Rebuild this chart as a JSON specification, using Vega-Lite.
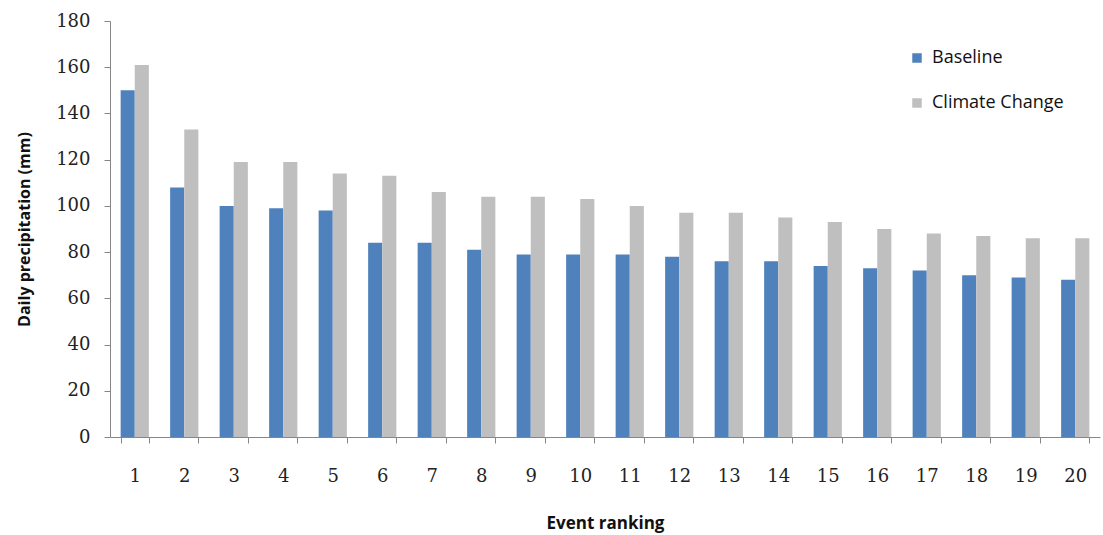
{
  "$schema": "https://vega.github.io/schema/vega-lite/v6.json",
  "autosize": "none",
  "width": 990,
  "height": 416,
  "padding": {"left": 110, "top": 21, "right": 3, "bottom": 98},
  "background": "white",
  "data": {
    "values": [
      {"rank": 1, "scenario": "Baseline", "value": 150},
      {"rank": 1, "scenario": "Climate Change", "value": 161},
      {"rank": 2, "scenario": "Baseline", "value": 108},
      {"rank": 2, "scenario": "Climate Change", "value": 133},
      {"rank": 3, "scenario": "Baseline", "value": 100},
      {"rank": 3, "scenario": "Climate Change", "value": 119},
      {"rank": 4, "scenario": "Baseline", "value": 99},
      {"rank": 4, "scenario": "Climate Change", "value": 119},
      {"rank": 5, "scenario": "Baseline", "value": 98},
      {"rank": 5, "scenario": "Climate Change", "value": 114},
      {"rank": 6, "scenario": "Baseline", "value": 84},
      {"rank": 6, "scenario": "Climate Change", "value": 113},
      {"rank": 7, "scenario": "Baseline", "value": 84},
      {"rank": 7, "scenario": "Climate Change", "value": 106},
      {"rank": 8, "scenario": "Baseline", "value": 81},
      {"rank": 8, "scenario": "Climate Change", "value": 104},
      {"rank": 9, "scenario": "Baseline", "value": 79},
      {"rank": 9, "scenario": "Climate Change", "value": 104},
      {"rank": 10, "scenario": "Baseline", "value": 79},
      {"rank": 10, "scenario": "Climate Change", "value": 103},
      {"rank": 11, "scenario": "Baseline", "value": 79},
      {"rank": 11, "scenario": "Climate Change", "value": 100},
      {"rank": 12, "scenario": "Baseline", "value": 78},
      {"rank": 12, "scenario": "Climate Change", "value": 97},
      {"rank": 13, "scenario": "Baseline", "value": 76},
      {"rank": 13, "scenario": "Climate Change", "value": 97},
      {"rank": 14, "scenario": "Baseline", "value": 76},
      {"rank": 14, "scenario": "Climate Change", "value": 95},
      {"rank": 15, "scenario": "Baseline", "value": 74},
      {"rank": 15, "scenario": "Climate Change", "value": 93},
      {"rank": 16, "scenario": "Baseline", "value": 73},
      {"rank": 16, "scenario": "Climate Change", "value": 90},
      {"rank": 17, "scenario": "Baseline", "value": 72},
      {"rank": 17, "scenario": "Climate Change", "value": 88},
      {"rank": 18, "scenario": "Baseline", "value": 70},
      {"rank": 18, "scenario": "Climate Change", "value": 87},
      {"rank": 19, "scenario": "Baseline", "value": 69},
      {"rank": 19, "scenario": "Climate Change", "value": 86},
      {"rank": 20, "scenario": "Baseline", "value": 68},
      {"rank": 20, "scenario": "Climate Change", "value": 86}
    ]
  },
  "mark": {"type": "bar"},
  "encoding": {
    "x": {
      "field": "rank",
      "type": "ordinal",
      "scale": {"paddingInner": 0.43, "paddingOuter": 0.215},
      "axis": {
        "title": "Event ranking",
        "labelAngle": 0,
        "labelFont": "DejaVu Serif",
        "labelFontSize": 18,
        "labelColor": "#222222",
        "labelPadding": 24,
        "tickBand": "extent",
        "tickSize": 6,
        "tickColor": "#868686",
        "domainColor": "#868686",
        "titleFont": "Open Sans",
        "titleFontSize": 17,
        "titleFontWeight": "bold",
        "titleColor": "#111111",
        "titleBaseline": "middle",
        "titleY": 86,
        "grid": false
      }
    },
    "xOffset": {"field": "scenario", "type": "nominal", "scale": {"paddingInner": 0}},
    "y": {
      "field": "value",
      "type": "quantitative",
      "scale": {"domain": [0, 180], "nice": false},
      "axis": {
        "title": "Daily precipitation (mm)",
        "values": [0, 20, 40, 60, 80, 100, 120, 140, 160, 180],
        "labelFont": "DejaVu Serif",
        "labelFontSize": 18,
        "labelColor": "#222222",
        "labelPadding": 14,
        "tickSize": 6,
        "tickColor": "#868686",
        "domainColor": "#868686",
        "titleFont": "Open Sans",
        "titleFontSize": 16,
        "titleFontWeight": "bold",
        "titleColor": "#111111",
        "titleBaseline": "middle",
        "titleX": -86,
        "titleY": 208,
        "grid": false
      }
    },
    "color": {
      "field": "scenario",
      "type": "nominal",
      "scale": {"domain": ["Baseline", "Climate Change"], "range": ["#4F81BD", "#BFBFBF"]},
      "legend": {
        "title": null,
        "orient": "none",
        "legendX": 798,
        "legendY": 28,
        "symbolType": "square",
        "symbolSize": 90,
        "symbolStrokeWidth": 0,
        "labelFont": "Open Sans",
        "labelFontSize": 18,
        "labelColor": "#111111",
        "labelOffset": 6,
        "rowPadding": 27
      }
    }
  },
  "config": {"view": {"stroke": null}}
}
